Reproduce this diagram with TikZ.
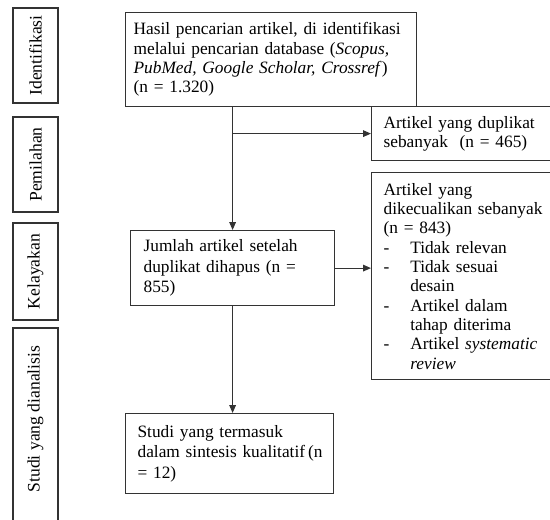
\documentclass[tikz,border=0pt]{standalone}
\usepackage{fontspec}
\setmainfont{Liberation Serif}
\usetikzlibrary{arrows.meta}
\tikzstyle{box}=[rectangle, draw=black!80, line width=0.9pt, anchor=north west, align=left, inner ysep=0pt, font=\fontsize{13}{14.5}\selectfont]
\tikzstyle{stage}=[draw=black!80, line width=0.9pt]
\tikzstyle{stagelbl}=[rotate=90, inner sep=0pt, font=\fontsize{13.2}{14.5}\selectfont]
\tikzstyle{arr}=[-{Triangle[length=6pt,width=5pt]}, draw=black!80, line width=0.8pt]
\newcommand{\itm}{\makebox[20pt][l]{-}}

\begin{document}
\begin{tikzpicture}[x=0.75pt, y=-0.75pt]
	\useasboundingbox (0,0) rectangle (550,519);
	\clip (0,0) rectangle (550,519);

	% stages on the left
	\draw[stage] (13,8) rectangle (58,103);
	\node[stagelbl] (identifikasi) at (35.5,55.5) {Identifikasi};
	\draw[stage] (13,117) rectangle (58,212);
	\node[stagelbl] (pemilahan) at (35.5,164.5) {Pemilahan};
	\draw[stage] (13,223) rectangle (58,320);
	\node[stagelbl] (kelayakan) at (35.5,271.5) {Kelayakan};
	\draw[stage] (13,328) rectangle (58,540);
	\node[stagelbl] (dianalisis) at (35.5,419) {Studi yang dianalisis};

	% flow boxes
	\node[box, minimum width=291*0.75pt, minimum height=94*0.75pt, inner xsep=8*0.75pt, text width=275*0.75pt] (hasil) at (125,12)
		{Hasil pencarian artikel, di identifikasi\\ melalui pencarian database (\textit{Scopus,}\\ \textit{PubMed, Google Scholar, Crossref})\\ (n = 1.320)};
	\node[box, minimum width=200*0.75pt, minimum height=54*0.75pt, inner xsep=12*0.75pt, text width=176*0.75pt] (dup) at (371,106)
		{Artikel yang duplikat\\ sebanyak\ \ (n = 465)};
	\node[box, minimum width=200*0.75pt, minimum height=207*0.75pt, inner xsep=12*0.75pt, text width=176*0.75pt] (excl) at (371,172)
		{Artikel yang\\ dikecualikan sebanyak\\ (n = 843)\\
		\itm Tidak relevan\\
		\itm Tidak sesuai\\
		\hspace*{20pt}desain\\
		\itm Artikel dalam\\
		\hspace*{20pt}tahap diterima\\
		\itm Artikel \textit{systematic}\\
		\hspace*{20pt}\textit{review}};
	\node[box, minimum width=204*0.75pt, minimum height=75*0.75pt, inner xsep=13*0.75pt, text width=178*0.75pt, font=\fontsize{13}{15.5}\selectfont] (jumlah) at (130,230)
		{Jumlah artikel setelah\\ duplikat dihapus (n =\\ 855)};
	\node[box, minimum width=208*0.75pt, minimum height=80*0.75pt, inner xsep=12*0.75pt, text width=184*0.75pt, font=\fontsize{13}{15.5}\selectfont] (studi) at (125,413)
		{Studi yang termasuk\\ \mbox{dalam sintesis kualitatif\,(n}\\ = 12)};

	% connectors
	\coordinate (split) at (jumlah.north |- dup.west);
	\draw[arr] (hasil.south -| jumlah.north) -- (jumlah.north);
	\draw[arr] (split) -- (dup.west);
	\draw[arr] (jumlah.east) -- (jumlah.east -| excl.west);
	\draw[arr] (jumlah.south) -- (jumlah.south |- studi.north);
\end{tikzpicture}
\end{document}
